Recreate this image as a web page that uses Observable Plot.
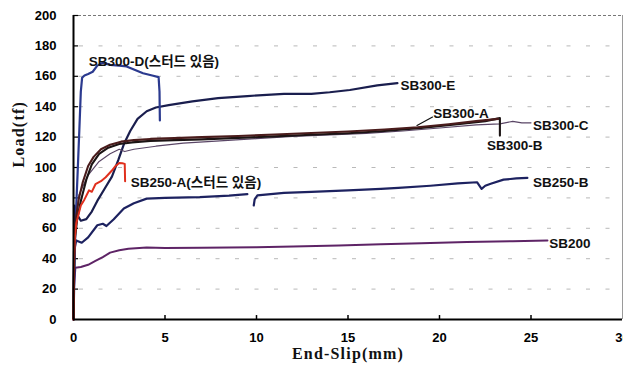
<!DOCTYPE html>
<html>
<head>
<meta charset="utf-8">
<script src="https://cdn.jsdelivr.net/npm/d3@7"></script>
<script src="https://cdn.jsdelivr.net/npm/@observablehq/plot@0.6"></script>
<style>
  html, body { margin: 0; padding: 0; background: #fff; overflow: hidden; }
  #chart svg { display: block; }
</style>
</head>
<body>
<div id="chart"></div>
<script>
// ---- Data (End-Slip in mm, Load in tf) ----
const xTicks = [0, 5, 10, 15, 20, 25, 30];
const yTicks = [0, 20, 40, 60, 80, 100, 120, 140, 160, 180, 200];

const sb200Slip = [0, 0.02, 0.1, 0.4, 0.8, 1.2, 1.6, 2.0, 2.5, 3.0, 4.0, 5, 7, 10, 12, 14.5, 16.8, 19, 21.5, 24, 25.9];
const sb200Load = [0, 20, 34, 34.5, 36, 38.5, 41, 44, 45.5, 46.5, 47.3, 47, 47.2, 47.5, 48, 48.7, 49.5, 50.2, 51, 51.5, 52];

const sb250BSlip = [0, 0.03, 0.15, 0.45, 0.8, 1.3, 1.6, 1.8, 2.2, 2.75, 3.3, 4.0, 5, 6.9, 8.5, 9.5, 9.7, 9.85, 9.9, 10.05, 11.5, 13, 15, 16.8, 17.75, 19.5, 21, 22.05, 22.3, 22.5, 22.8, 23.5, 24.2, 24.8];
const sb250BLoad = [0, 45, 52, 50.5, 54, 62, 63, 61.5, 66, 73, 76.5, 79.5, 80, 80.5, 81.5, 82.5, NaN, 75, 79, 81.6, 83.3, 84, 85, 86, 86.6, 88, 89.5, 90.3, 86, 88, 89.3, 92, 92.8, 93.2];

const sb300ESlip = [0, 0.05, 0.15, 0.4, 0.7, 1.0, 1.3, 1.7, 2.1, 2.45, 2.76, 3.1, 3.5, 4.0, 4.5, 5.2, 6.5, 7.9, 9.5, 11.5, 13, 14, 15.1, 16.6, 17.7];
const sb300ELoad = [0, 75, 70, 65, 66, 71, 78, 86, 94, 105, 115.6, 124, 132, 137, 139.5, 141, 143.5, 145.6, 147, 148.5, 148.5, 149.5, 151, 154, 155.5];

const sb300DSlip = [0, 0.1, 0.22, 0.32, 0.4, 0.47, 0.6, 0.8, 1.05, 1.3, 1.6, 2.0, 2.5, 2.9, 3.3, 3.8, 4.3, 4.65, 4.7, 4.72];
const sb300DLoad = [0, 60, 95, 125, 150, 159, 160.5, 161.5, 163, 167, 169, 167.5, 167, 166.5, 164.5, 162, 160.5, 159.5, 150, 131];

const sb300CSlip = [0, 0.05, 0.3, 0.8, 1.4, 2.0, 2.5, 2.8, 3.3, 4.5, 6, 8, 10, 12, 14, 16, 18, 20, 22, 23.3, 24, 24.5, 25];
const sb300CLoad = [0, 60, 82, 95, 104, 109, 112, 110.5, 112, 114, 116, 117.5, 119, 120.5, 121.5, 122.5, 124, 126, 128, 128.7, 130.4, 129.4, 129.4];

const sb300BSlip = [0, 0.05, 0.2, 0.4, 0.7, 1.0, 1.4, 1.9, 2.5, 3.2, 4.2, 5.5, 7, 9, 11, 13, 15, 17, 19, 21, 22.5, 23.3, 23.3];
const sb300BLoad = [0, 50, 66, 78, 92, 102, 109, 113, 115.5, 116.5, 117.5, 118, 118.5, 119.5, 120.5, 121.5, 122.5, 124, 126, 128.5, 130.5, 132.5, 121];

const sb300ASlip = [0, 0.05, 0.15, 0.3, 0.5, 0.8, 1.1, 1.5, 2.0, 2.6, 3.3, 4.2, 5.5, 7, 9, 11, 13, 15, 17, 18.8, 20.5, 22, 23.2];
const sb300ALoad = [0, 55, 68, 80, 90, 101, 107, 112, 115, 117, 118, 118.8, 119.3, 120, 120.7, 121.7, 122.7, 123.7, 125, 126.5, 128.5, 130.5, 132];

const sb250ASlip = [0, 0.03, 0.08, 0.15, 0.25, 0.4, 0.6, 0.85, 1.0, 1.2, 1.5, 1.76, 2.1, 2.3, 2.5, 2.67, 2.8, 2.82];
const sb250ALoad = [0, 40, 55, 63, 68, 75, 79, 85, 84, 89, 91, 93.6, 98, 101, 103, 102.8, 102.4, 91];

const labelNames = ["SB300-D(스터드 있음)", "SB300-E", "SB300-A", "SB300-C", "SB300-B", "SB250-A(스터드 있음)", "SB250-B", "SB200"];
const labelSlip  = [0.83, 17.87, 19.66, 25.11, 22.59, 3.13, 25.11, 26.0];
const labelLoad  = [169.3, 153.9, 135.5, 127.2, 114.5, 89.7, 89.7, 49.8];

const leaderSlip = [18.77, 19.62];
const leaderLoad = [127.6, 133.2];

// ---- Build ----
const pts = (xs, ys) => xs.map((x, i) => ({x, y: ys[i]}));
const sans = "'Liberation Sans', Arial, 'Noto Sans CJK KR', sans-serif";
const serif = "'Liberation Serif', 'Times New Roman', serif";

const series = [
  {data: pts(sb200Slip, sb200Load), stroke: "#5e2466", w: 2},
  {data: pts(sb250BSlip, sb250BLoad), stroke: "#1d2260", w: 2.2},
  {data: pts(sb300ESlip, sb300ELoad), stroke: "#1a1e4e", w: 2.2},
  {data: pts(sb300DSlip, sb300DLoad), stroke: "#2b3a8f", w: 2.2},
  {data: pts(sb300CSlip, sb300CLoad), stroke: "#5a4666", w: 1.2},
  {data: pts(sb300BSlip, sb300BLoad), stroke: "#1b1414", w: 2.1},
  {data: pts(sb300ASlip, sb300ALoad), stroke: "#4a1c1c", w: 2.1},
  {data: pts(sb250ASlip, sb250ALoad), stroke: "#e0301e", w: 2}
];

const chart = Plot.plot({
  width: 623,
  height: 370,
  marginTop: 15,
  marginBottom: 51,
  marginLeft: 73,
  marginRight: 1,
  x: {domain: [0, 30]},
  y: {domain: [0, 200]},
  style: {background: "#fff", fontFamily: sans},
  marks: [
    Plot.ruleY(yTicks.filter(d => d > 0 && d < 200), {stroke: "#8a8a8a", strokeOpacity: 0.6, strokeDasharray: "4,15.5", strokeDashoffset: -6}),
    Plot.ruleY([200], {stroke: "#777", strokeDasharray: "3,2"}),
    Plot.ruleX([30], {stroke: "#9a9a9a", strokeWidth: 1}),
    Plot.axisX({ticks: xTicks, tickSize: 0, tickPadding: 13, tickFormat: d => d, fontSize: 13, fontWeight: "bold", label: null}),
    Plot.axisY({ticks: yTicks, tickSize: 0, tickPadding: 17, tickFormat: d => d, fontSize: 13, fontWeight: "bold", label: null}),
    Plot.ruleX(xTicks.filter(d => d > 0 && d < 30), {y1: 0, y2: 2.6, stroke: "#000", strokeWidth: 1.5}),
    Plot.ruleY(yTicks.filter(d => d > 0), {x1: 0, x2: 0.28, stroke: "#000", strokeWidth: 1.2}),
    ...series.map(s => Plot.line(s.data, {x: "x", y: "y", stroke: s.stroke, strokeWidth: s.w, curve: "linear"})),
    Plot.line(pts(leaderSlip, leaderLoad), {x: "x", y: "y", stroke: "#111", strokeWidth: 1.2}),
    Plot.ruleX([0], {stroke: "#000", strokeWidth: 2}),
    Plot.ruleY([0], {stroke: "#000", strokeWidth: 2}),
    Plot.text(labelNames, {
      x: (d, i) => labelSlip[i], y: (d, i) => labelLoad[i], text: d => d,
      textAnchor: "start", fontWeight: "bold", fontSize: 13.5, fill: "#111",
      fontFamily: sans
    }),
    Plot.text(["End-Slip(mm)"], {frameAnchor: "bottom", dy: 39, text: d => d, fontFamily: serif, fontWeight: "bold", fontSize: 16, fill: "#111"}),
    Plot.text(["Load(tf)"], {frameAnchor: "left", dx: -55, rotate: -90, text: d => d, fontFamily: serif, fontWeight: "bold", fontSize: 16, fill: "#111"})
  ]
});

chart.querySelectorAll("text").forEach(t => {
  if (t.textContent === "End-Slip(mm)" || t.textContent === "Load(tf)") t.setAttribute("letter-spacing", "1.2");
});
document.getElementById("chart").appendChild(chart);
</script>
</body>
</html>
